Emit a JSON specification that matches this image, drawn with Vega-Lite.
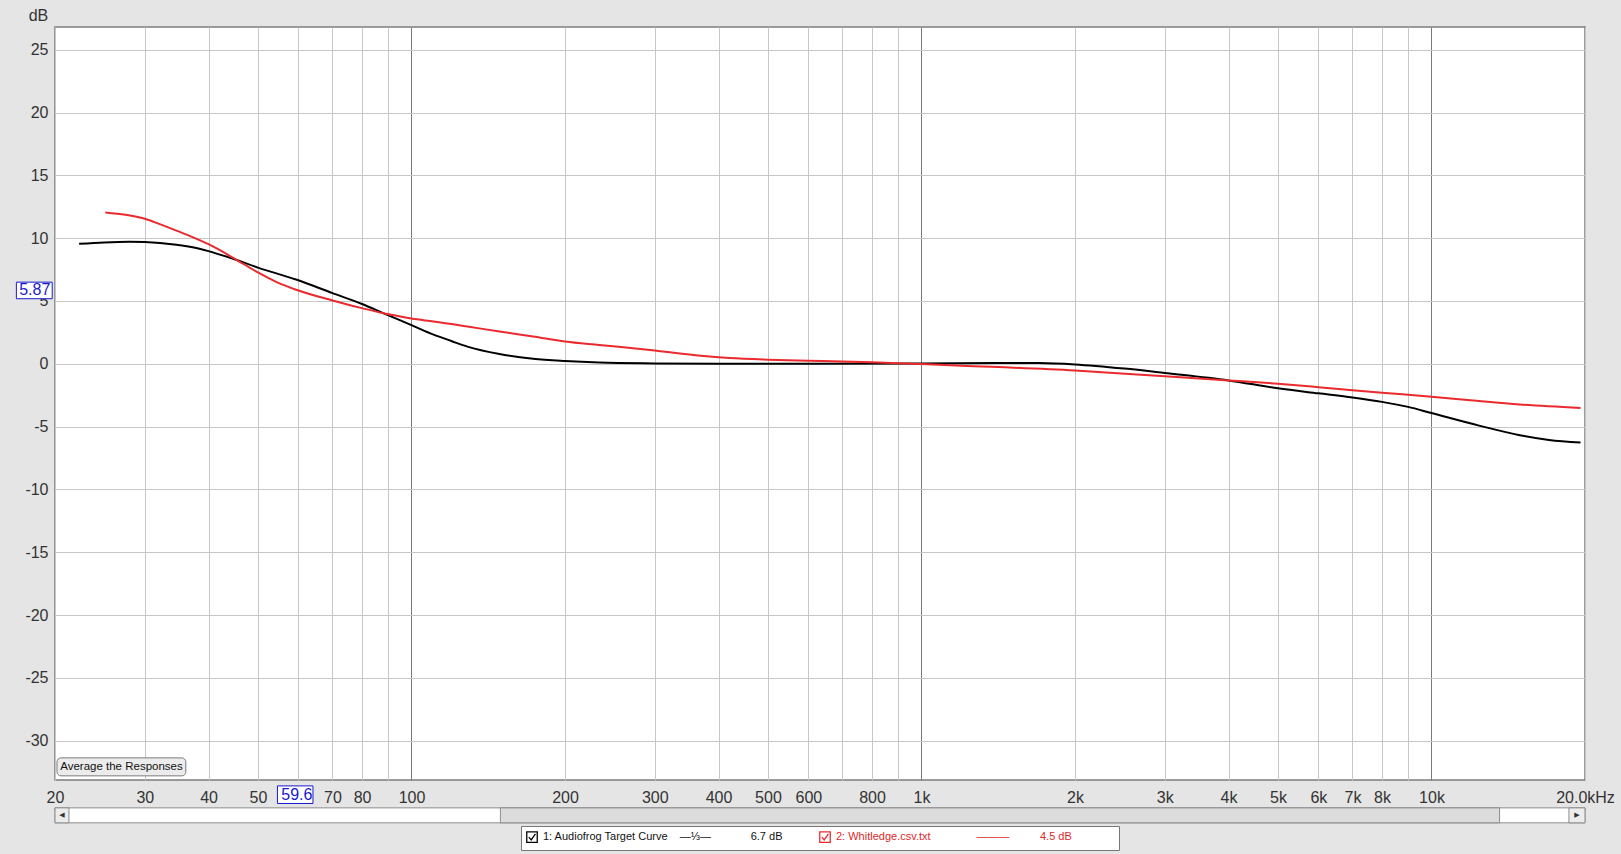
{
  "$schema": "https://vega.github.io/schema/vega-lite/v6.json",
  "width": 1530,
  "height": 753,
  "autosize": {"type": "none"},
  "padding": {"left": 55, "top": 27, "right": 36, "bottom": 74},
  "background": "#e5e5e5",
  "config": {
    "font": "Liberation Sans",
    "view": {"stroke": "#7c7c7c", "strokeWidth": 1.5, "fill": "white"}
  },
  "datasets": {
    "curves": [
      {"series": "1: Audiofrog Target Curve", "freq": 22.3, "db": 9.55},
      {"series": "1: Audiofrog Target Curve", "freq": 25, "db": 9.66},
      {"series": "1: Audiofrog Target Curve", "freq": 28, "db": 9.71},
      {"series": "1: Audiofrog Target Curve", "freq": 30, "db": 9.69},
      {"series": "1: Audiofrog Target Curve", "freq": 34.6, "db": 9.47},
      {"series": "1: Audiofrog Target Curve", "freq": 38.4, "db": 9.16},
      {"series": "1: Audiofrog Target Curve", "freq": 40, "db": 8.97},
      {"series": "1: Audiofrog Target Curve", "freq": 44.8, "db": 8.34},
      {"series": "1: Audiofrog Target Curve", "freq": 50, "db": 7.66},
      {"series": "1: Audiofrog Target Curve", "freq": 59.6, "db": 6.69},
      {"series": "1: Audiofrog Target Curve", "freq": 70, "db": 5.63},
      {"series": "1: Audiofrog Target Curve", "freq": 80, "db": 4.76},
      {"series": "1: Audiofrog Target Curve", "freq": 88.2, "db": 4.02},
      {"series": "1: Audiofrog Target Curve", "freq": 100, "db": 3.08},
      {"series": "1: Audiofrog Target Curve", "freq": 110.5, "db": 2.32},
      {"series": "1: Audiofrog Target Curve", "freq": 120, "db": 1.8},
      {"series": "1: Audiofrog Target Curve", "freq": 128.7, "db": 1.37},
      {"series": "1: Audiofrog Target Curve", "freq": 148.8, "db": 0.78},
      {"series": "1: Audiofrog Target Curve", "freq": 173.2, "db": 0.4},
      {"series": "1: Audiofrog Target Curve", "freq": 200, "db": 0.22},
      {"series": "1: Audiofrog Target Curve", "freq": 233.5, "db": 0.1},
      {"series": "1: Audiofrog Target Curve", "freq": 300, "db": 0.03},
      {"series": "1: Audiofrog Target Curve", "freq": 400, "db": 0.0},
      {"series": "1: Audiofrog Target Curve", "freq": 600, "db": 0.0},
      {"series": "1: Audiofrog Target Curve", "freq": 1000, "db": 0.03},
      {"series": "1: Audiofrog Target Curve", "freq": 1400, "db": 0.07},
      {"series": "1: Audiofrog Target Curve", "freq": 1700, "db": 0.06},
      {"series": "1: Audiofrog Target Curve", "freq": 2000, "db": -0.05},
      {"series": "1: Audiofrog Target Curve", "freq": 2500, "db": -0.38},
      {"series": "1: Audiofrog Target Curve", "freq": 3000, "db": -0.73},
      {"series": "1: Audiofrog Target Curve", "freq": 4000, "db": -1.32},
      {"series": "1: Audiofrog Target Curve", "freq": 5000, "db": -1.95},
      {"series": "1: Audiofrog Target Curve", "freq": 6000, "db": -2.35},
      {"series": "1: Audiofrog Target Curve", "freq": 7000, "db": -2.68},
      {"series": "1: Audiofrog Target Curve", "freq": 8000, "db": -3.03},
      {"series": "1: Audiofrog Target Curve", "freq": 9000, "db": -3.43},
      {"series": "1: Audiofrog Target Curve", "freq": 10000, "db": -3.92},
      {"series": "1: Audiofrog Target Curve", "freq": 12400, "db": -4.92},
      {"series": "1: Audiofrog Target Curve", "freq": 14900, "db": -5.68},
      {"series": "1: Audiofrog Target Curve", "freq": 17000, "db": -6.06},
      {"series": "1: Audiofrog Target Curve", "freq": 19600, "db": -6.27},
      {"series": "2: Whitledge.csv.txt", "freq": 25.1, "db": 12.05},
      {"series": "2: Whitledge.csv.txt", "freq": 27.5, "db": 11.86},
      {"series": "2: Whitledge.csv.txt", "freq": 30, "db": 11.54},
      {"series": "2: Whitledge.csv.txt", "freq": 32, "db": 11.14},
      {"series": "2: Whitledge.csv.txt", "freq": 34.6, "db": 10.6},
      {"series": "2: Whitledge.csv.txt", "freq": 38.4, "db": 9.85},
      {"series": "2: Whitledge.csv.txt", "freq": 40, "db": 9.52},
      {"series": "2: Whitledge.csv.txt", "freq": 44.8, "db": 8.42},
      {"series": "2: Whitledge.csv.txt", "freq": 50, "db": 7.27},
      {"series": "2: Whitledge.csv.txt", "freq": 54.4, "db": 6.5},
      {"series": "2: Whitledge.csv.txt", "freq": 59.6, "db": 5.87},
      {"series": "2: Whitledge.csv.txt", "freq": 70, "db": 5.04},
      {"series": "2: Whitledge.csv.txt", "freq": 80, "db": 4.43},
      {"series": "2: Whitledge.csv.txt", "freq": 88.2, "db": 4.02},
      {"series": "2: Whitledge.csv.txt", "freq": 95.1, "db": 3.77},
      {"series": "2: Whitledge.csv.txt", "freq": 100, "db": 3.6},
      {"series": "2: Whitledge.csv.txt", "freq": 110.5, "db": 3.37},
      {"series": "2: Whitledge.csv.txt", "freq": 128.7, "db": 2.97},
      {"series": "2: Whitledge.csv.txt", "freq": 148.8, "db": 2.57},
      {"series": "2: Whitledge.csv.txt", "freq": 173.2, "db": 2.18},
      {"series": "2: Whitledge.csv.txt", "freq": 200, "db": 1.78},
      {"series": "2: Whitledge.csv.txt", "freq": 233.5, "db": 1.5},
      {"series": "2: Whitledge.csv.txt", "freq": 300, "db": 1.06},
      {"series": "2: Whitledge.csv.txt", "freq": 369, "db": 0.64},
      {"series": "2: Whitledge.csv.txt", "freq": 420, "db": 0.46},
      {"series": "2: Whitledge.csv.txt", "freq": 500, "db": 0.33},
      {"series": "2: Whitledge.csv.txt", "freq": 600, "db": 0.25},
      {"series": "2: Whitledge.csv.txt", "freq": 700, "db": 0.19},
      {"series": "2: Whitledge.csv.txt", "freq": 800, "db": 0.12},
      {"series": "2: Whitledge.csv.txt", "freq": 900, "db": 0.05},
      {"series": "2: Whitledge.csv.txt", "freq": 1000, "db": -0.02},
      {"series": "2: Whitledge.csv.txt", "freq": 1200, "db": -0.15},
      {"series": "2: Whitledge.csv.txt", "freq": 2000, "db": -0.54},
      {"series": "2: Whitledge.csv.txt", "freq": 3000, "db": -1.0},
      {"series": "2: Whitledge.csv.txt", "freq": 4000, "db": -1.32},
      {"series": "2: Whitledge.csv.txt", "freq": 5000, "db": -1.59},
      {"series": "2: Whitledge.csv.txt", "freq": 6000, "db": -1.86},
      {"series": "2: Whitledge.csv.txt", "freq": 7000, "db": -2.1},
      {"series": "2: Whitledge.csv.txt", "freq": 8000, "db": -2.3},
      {"series": "2: Whitledge.csv.txt", "freq": 10000, "db": -2.62},
      {"series": "2: Whitledge.csv.txt", "freq": 12400, "db": -2.97},
      {"series": "2: Whitledge.csv.txt", "freq": 14900, "db": -3.24},
      {"series": "2: Whitledge.csv.txt", "freq": 19600, "db": -3.51}
    ],
    "boxes": [
      {"x1": 54.6, "x2": 64.1, "y1": -33.6, "y2": -35.0},
      {"x1": 16.8, "x2": 19.75, "y1": 6.5, "y2": 5.18}
    ],
    "boxtext": [
      {"x": 59.6, "y": -34.3, "text": "59.6"},
      {"x": 18.25, "y": 5.84, "text": "5.87"}
    ],
    "button": [
      {"x1": 20.18, "x2": 36.1, "y1": -31.37, "y2": -32.8, "cx": 27.0, "cy": -32.1, "text": "Average the Responses"}
    ],
    "track": [
      {"x1": 20, "x2": 20000, "y1": -35.35, "y2": -36.54, "fill": "white"},
      {"x1": 149.4, "x2": 13600, "y1": -35.35, "y2": -36.54, "fill": "#dcdcdc"},
      {"x1": 20, "x2": 21.3, "y1": -35.35, "y2": -36.54, "fill": "#ececec"},
      {"x1": 18600, "x2": 20000, "y1": -35.35, "y2": -36.54, "fill": "#ececec"}
    ],
    "arrows": [
      {"x": 20.63, "y": -35.95, "text": "◀"},
      {"x": 19290, "y": -35.95, "text": "▶"}
    ]
  },
  "layer": [
    {
      "data": {"name": "curves"},
      "mark": {"type": "line", "strokeWidth": 2, "interpolate": "monotone"},
      "encoding": {
        "x": {
          "field": "freq", "type": "quantitative",
          "scale": {"type": "log", "domain": [20, 20000], "nice": false},
          "axis": {
            "title": null,
            "values": [20,30,40,50,60,70,80,90,100,200,300,400,500,600,700,800,900,1000,2000,3000,4000,5000,6000,7000,8000,9000,10000,20000],
            "labelExpr": "(datum.value==60||datum.value==90||datum.value==700||datum.value==900||datum.value==9000) ? '' : datum.value==20000 ? '20.0kHz' : datum.value>=1000 ? (datum.value/1000)+'k' : datum.value+''",
            "grid": true,
            "gridColor": {"condition": {"test": "datum.value==100||datum.value==1000||datum.value==10000", "value": "#7a7a7a"}, "value": "#c6c6c6"},
            "gridWidth": 1,
            "ticks": false,
            "domain": false,
            "labelFontSize": 16,
            "labelColor": "#333333",
            "labelPadding": 9,
            "labelOverlap": false,
            "labelFlush": false
          }
        },
        "y": {
          "field": "db", "type": "quantitative",
          "scale": {"domain": [-33.13, 26.81], "nice": false, "zero": false},
          "axis": {
            "title": "dB",
            "titleAngle": 0,
            "titleX": -17,
            "titleY": -7,
            "titleAlign": "center",
            "titleBaseline": "alphabetic",
            "titleFontSize": 16,
            "titleFontWeight": "normal",
            "titleColor": "#333333",
            "values": [-30,-25,-20,-15,-10,-5,0,5,10,15,20,25],
            "labelExpr": "datum.value + ''",
            "grid": true,
            "gridColor": "#c6c6c6",
            "ticks": false,
            "domain": false,
            "labelFontSize": 16,
            "labelColor": "#333333",
            "labelPadding": 7
          }
        },
        "color": {
          "field": "series", "type": "nominal",
          "scale": {"domain": ["1: Audiofrog Target Curve", "2: Whitledge.csv.txt"], "range": ["#000000", "#ea2a2e"]},
          "legend": {
            "orient": "none",
            "legendX": 466,
            "legendY": 799,
            "direction": "horizontal",
            "title": null,
            "fillColor": "white",
            "strokeColor": "#777777",
            "padding": 5,
            "symbolType": "M-1,-1H1V1H-1Z M-0.6,0L-0.15,0.55L0.65,-0.6",
            "symbolSize": 110,
            "symbolStrokeWidth": 1.3,
            "symbolFillColor": "white",
            "labelOffset": 5,
            "columnPadding": 33,
            "labelFontSize": 11,
            "labelLimit": 500,
            "labelExpr": "datum.value == '1: Audiofrog Target Curve' ? '1: Audiofrog Target Curve\u00a0\u00a0\u00a0\u00a0—⅓—\u00a0\u00a0\u00a0\u00a0\u00a0\u00a0\u00a0\u00a0\u00a0\u00a0\u00a0\u00a0\u00a06.7 dB' : '2: Whitledge.csv.txt\u00a0\u00a0\u00a0\u00a0\u00a0\u00a0\u00a0\u00a0\u00a0\u00a0\u00a0\u00a0\u00a0\u00a0\u00a0———\u00a0\u00a0\u00a0\u00a0\u00a0\u00a0\u00a0\u00a0\u00a0\u00a04.5 dB\u00a0\u00a0\u00a0\u00a0\u00a0\u00a0\u00a0\u00a0\u00a0\u00a0\u00a0\u2800'",
            "encode": {
              "labels": {
                "update": {
                  "fill": {"signal": "indexof(datum.value, '2:') == 0 ? '#e0282c' : '#111111'"}
                }
              }
            }
          }
        }
      }
    },
    {
      "mark": {"type": "rule", "color": "#000000", "strokeWidth": 1.2},
      "encoding": {"x": {"datum": 59.6, "type": "quantitative"}}
    },
    {
      "mark": {"type": "rule", "color": "#000000", "strokeWidth": 1.2},
      "encoding": {"y": {"datum": 5.87, "type": "quantitative"}}
    },
    {
      "data": {"name": "button"},
      "mark": {"type": "rect", "fill": "#ececec", "stroke": "#7a7a7a", "strokeWidth": 1, "cornerRadius": 4},
      "encoding": {
        "x": {"field": "x1", "type": "quantitative"},
        "x2": {"field": "x2"},
        "y": {"field": "y1", "type": "quantitative"},
        "y2": {"field": "y2"}
      }
    },
    {
      "data": {"name": "button"},
      "mark": {"type": "text", "fontSize": 11.5, "color": "#111111", "baseline": "middle", "align": "center"},
      "encoding": {
        "x": {"field": "cx", "type": "quantitative"},
        "y": {"field": "cy", "type": "quantitative"},
        "text": {"field": "text"}
      }
    },
    {
      "data": {"name": "track"},
      "mark": {"type": "rect", "stroke": "#8c8c8c", "strokeWidth": 1, "clip": false},
      "encoding": {
        "x": {"field": "x1", "type": "quantitative"},
        "x2": {"field": "x2"},
        "y": {"field": "y1", "type": "quantitative"},
        "y2": {"field": "y2"},
        "fill": {"field": "fill", "type": "nominal", "scale": null}
      }
    },
    {
      "data": {"name": "arrows"},
      "mark": {"type": "text", "fontSize": 7, "color": "#333333", "baseline": "middle", "align": "center", "font": "DejaVu Sans"},
      "encoding": {
        "x": {"field": "x", "type": "quantitative"},
        "y": {"field": "y", "type": "quantitative"},
        "text": {"field": "text"}
      }
    },
    {
      "data": {"name": "boxes"},
      "mark": {"type": "rect", "fill": "white", "stroke": "#1a1ad0", "strokeWidth": 1, "clip": false},
      "encoding": {
        "x": {"field": "x1", "type": "quantitative"},
        "x2": {"field": "x2"},
        "y": {"field": "y1", "type": "quantitative"},
        "y2": {"field": "y2"}
      }
    },
    {
      "data": {"name": "boxtext"},
      "mark": {"type": "text", "fontSize": 16, "color": "#1a1ad0", "baseline": "middle", "align": "center"},
      "encoding": {
        "x": {"field": "x", "type": "quantitative"},
        "y": {"field": "y", "type": "quantitative"},
        "text": {"field": "text"}
      }
    }
  ]
}
